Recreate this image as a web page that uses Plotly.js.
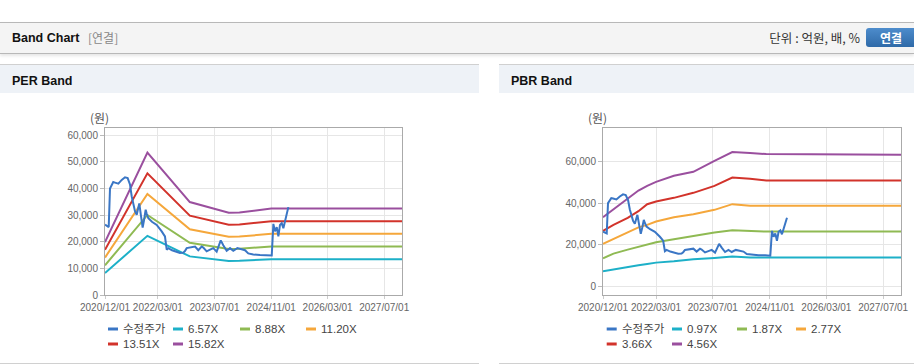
<!DOCTYPE html>
<html><head><meta charset="utf-8">
<script src="https://cdn.plot.ly/plotly-3.0.1.min.js"></script>
<style>
body{margin:0;width:914px;height:364px;overflow:hidden;background:#fff;position:relative;font-family:"Liberation Sans","Noto Sans CJK KR",sans-serif}
#hdr{position:absolute;left:0;top:22px;width:914px;height:30px;background:#f4f4f4;border-top:1px solid #b8b8b8;border-bottom:1px solid #b8b8b8;box-shadow:0 2px 3px rgba(0,0,0,0.10)}
#hdr .t{position:absolute;left:12px;top:7px;font-size:12.5px;font-weight:bold;color:#111;line-height:16px}
#hdr .s{position:absolute;left:88px;top:7px;font-size:12px;color:#888;line-height:16px;font-family:"Noto Sans CJK KR",sans-serif}
#hdr .u{position:absolute;right:54px;top:7px;font-size:12.5px;color:#333;line-height:16px;font-family:"Noto Sans CJK KR",sans-serif}
#hdr .b{position:absolute;left:866px;top:5px;width:60px;height:19px;border-radius:3px;background:linear-gradient(#4d8ccc,#2f6aa8);color:#fff;font-size:12px;font-weight:bold;line-height:19px;padding-left:14px;box-sizing:border-box;font-family:"Noto Sans CJK KR",sans-serif}
.pan{position:absolute;top:64px;height:298px;border-top:1px solid #d0d0d0;border-bottom:1px solid #d0d0d0;background:#fff}
.ph{position:absolute;left:0;top:0;right:0;height:28px;background:#eef2f7}
.ph span{position:absolute;left:12px;top:8px;font-size:12.5px;font-weight:bold;color:#111;line-height:16px}
#per,#pbr{position:absolute;top:93px;height:269px}
</style></head>
<body>
<div id="hdr"><span class="t">Band Chart</span><span class="s">[연결]</span><span class="u">단위 : 억원, 배, %</span><span class="b">연결</span></div>
<div class="pan" style="left:0;width:479px"><div class="ph"><span>PER Band</span></div></div>
<div class="pan" style="left:499px;width:415px"><div class="ph"><span>PBR Band</span></div></div>
<div id="per" style="left:0;width:479px"></div>
<div id="pbr" style="left:499px;width:415px"></div>
<script>
// ---------- data ----------
const xTickVals = ['2020-12-01','2022-03-01','2023-07-01','2024-11-01','2026-03-01','2027-07-01'];
const xTickText = ['2020/12/01','2022/03/01','2023/07/01','2024/11/01','2026/03/01','2027/07/01'];

const priceName = '수정주가';
const priceDates = ['2020-12-01','2020-12-21','2021-01-02','2021-01-13','2021-01-22','2021-02-10','2021-02-25','2021-03-26','2021-04-24','2021-05-22','2021-06-14','2021-07-04','2021-07-19','2021-08-02','2021-08-16','2021-08-31','2021-09-22','2021-10-07','2021-10-21','2021-11-02','2021-11-16','2021-11-25','2021-12-09','2022-01-09','2022-02-19','2022-04-03','2022-05-01','2022-05-16','2022-05-30','2022-07-01','2022-08-10','2022-09-07','2022-10-06','2022-10-20','2022-11-04','2022-12-11','2023-01-15','2023-02-12','2023-03-13','2023-03-27','2023-04-25','2023-05-24','2023-06-21','2023-07-20','2023-08-24','2023-09-15','2023-10-14','2023-11-12','2023-12-10','2024-01-14','2024-02-20','2024-03-20','2024-04-17','2024-05-30','2024-07-27','2024-09-23','2024-11-05','2024-11-19','2024-12-03','2024-12-18','2025-01-01','2025-01-15','2025-01-30','2025-02-13','2025-02-27','2025-03-14','2025-03-19','2025-03-28'];
const priceValues = [26400,25800,25500,40000,41000,42400,42200,41800,43200,44200,43900,41500,37000,34500,31500,30100,34400,29600,25300,28100,32000,30500,28800,27500,26300,23900,22000,17000,17600,16800,16300,15800,15900,16500,17600,17900,18200,16800,18200,17800,16400,17000,17600,16300,20500,18700,16600,17600,16600,17600,17200,16800,15600,15200,15000,15000,14800,26700,23900,25500,22000,26300,27000,25100,27600,29500,31300,33000];

const perBandNames = ['6.57X','8.88X','11.20X','13.51X','15.82X'];
const perBandDates = ['2020-12-01','2021-12-01','2022-12-01','2023-03-01','2023-11-01','2024-02-01','2024-08-01','2024-11-01','2027-12-01'];
const per657  = [8250, 22200,14500,14050,12800,12850,13350,13450,13450];
const per888  = [11150,30050,19600,19000,17300,17400,18050,18200,18200];
const per1120 = [14050,37900,24700,23950,21850,21950,22750,22950,22950];
const per1351 = [16950,45700,29800,28900,26350,26450,27400,27700,27700];
const per1582 = [19850,53500,34900,33850,30850,31000,32100,32450,32450];

const pbrBandNames = ['0.97X','1.87X','2.77X','3.66X','4.56X'];
const pbrBandDates = ['2020-12-01','2021-03-01','2021-07-01','2021-10-01','2021-12-15','2022-03-01','2022-08-01','2023-01-15','2023-07-15','2023-12-15','2024-05-15','2024-10-01','2027-12-01'];
const pbr097 = [7400, 8340, 9590, 10260,10890,11510,12180,13140,13760,14390,13910,13910,13910];
const pbr187 = [13620,15830,17750,19180,20140,21290,22730,24320,25900,27050,26710,26380,26380];
const pbr277 = [20480,22800,25900,28400,29590,31170,33280,34720,36790,39520,38700,38700,38700];
const pbr366 = [26710,29590,32950,36160,39500,40800,42540,44940,48290,52280,51650,50840,50840];
const pbr456 = [33280,37120,42200,46040,48290,50210,53090,55010,60280,64460,63980,63500,63200];

// ---------- styling ----------
const priceColor = '#3a76c5';
const bandColors = ['#1db0c8','#8fba53','#f5a73b','#d2332b','#9a4f9e'];
const tickFont = {family:'"Liberation Sans", Arial, sans-serif', size:10, color:'#666'};
const legFont = {family:'"Liberation Sans","Noto Sans CJK KR", sans-serif', size:11.5, color:'#444'};

function makeTraces(bandNames, bandDates, bands){
  const tr = bands.map((v,i)=>({
    type:'scatter', mode:'lines', x:bandDates, y:v, name:bandNames[i],
    line:{color:bandColors[i], width:2}, hoverinfo:'skip', showlegend:false
  }));
  tr.push({type:'scatter', mode:'lines', x:priceDates, y:priceValues, name:priceName,
    line:{color:priceColor, width:2}, hoverinfo:'skip', showlegend:false});
  return tr;
}
// hand-drawn legend matching the original (short swatches, two rows)
function legendItems(names, colors, colPx, l, W){
  const bottom = 202, H = 167, rows = [236, 251];
  const shapes = [], anns = [];
  names.forEach((nm,i)=>{
    const r = i < 4 ? 0 : 1, c = i < 4 ? i : i-4;
    const x0 = colPx[c], yp = (bottom - rows[r]) / H;
    shapes.push({type:'line', xref:'paper', yref:'paper', x0:(x0-l)/W, x1:(x0+10-l)/W, y0:yp, y1:yp,
      line:{color:colors[i], width:3}});
    anns.push({text:nm, xref:'paper', yref:'paper', x:(x0+13-l)/W, y:yp, xanchor:'left', yanchor:'middle',
      showarrow:false, font:legFont});
  });
  return {shapes, anns};
}
function makeLayout(ml, mr, width, yRange, yTicks, annX, leg){
  return {
    width: width, height:269,
    margin:{l:ml, r:mr, t:35, b:67},
    paper_bgcolor:'rgba(0,0,0,0)', plot_bgcolor:'#fff',
    showlegend:false,
    xaxis:{type:'date', range:['2020-12-01','2027-12-01'], tickvals:xTickVals, ticktext:xTickText,
      tickangle:0, tickfont:tickFont, showgrid:true, gridcolor:'#e6e6e6', showline:true, linecolor:'#aaa',
      mirror:true, ticks:'outside', ticklen:3, tickcolor:'#ccc', zeroline:false, fixedrange:true},
    yaxis:{range:yRange, tickvals:yTicks, tickformat:',d', tickfont:tickFont, showgrid:true,
      gridcolor:'#e6e6e6', showline:true, linecolor:'#aaa', mirror:true, ticks:'outside',
      ticklen:4, tickcolor:'#bbb', zeroline:false, fixedrange:true},
    shapes: leg.shapes,
    annotations:[{text:'(원)', xref:'paper', yref:'paper', x:annX, y:1.06, xanchor:'center',
      yanchor:'middle', showarrow:false,
      font:{family:'"Noto Sans CJK KR", sans-serif', size:12, color:'#555'}}].concat(leg.anns)
  };
}
const cfg = {staticPlot:true, displayModeBar:false};
const legColors = [priceColor].concat(bandColors);
const perLeg = legendItems([priceName].concat(perBandNames), legColors, [108,173,240,306], 105, 297);
const pbrLeg = legendItems([priceName].concat(pbrBandNames), legColors, [107.7,173,238,297], 104, 298);
Plotly.newPlot('per', makeTraces(perBandNames, perBandDates, [per657,per888,per1120,per1351,per1582]),
  makeLayout(105, 77, 479, [0, 62700], [0,10000,20000,30000,40000,50000,60000], -0.02, perLeg), cfg);
Plotly.newPlot('pbr', makeTraces(pbrBandNames, pbrBandDates, [pbr097,pbr187,pbr277,pbr366,pbr456]),
  makeLayout(104, 13, 415, [-4000, 76000], [0,20000,40000,60000], -0.017, pbrLeg), cfg);
</script>
</body></html>
